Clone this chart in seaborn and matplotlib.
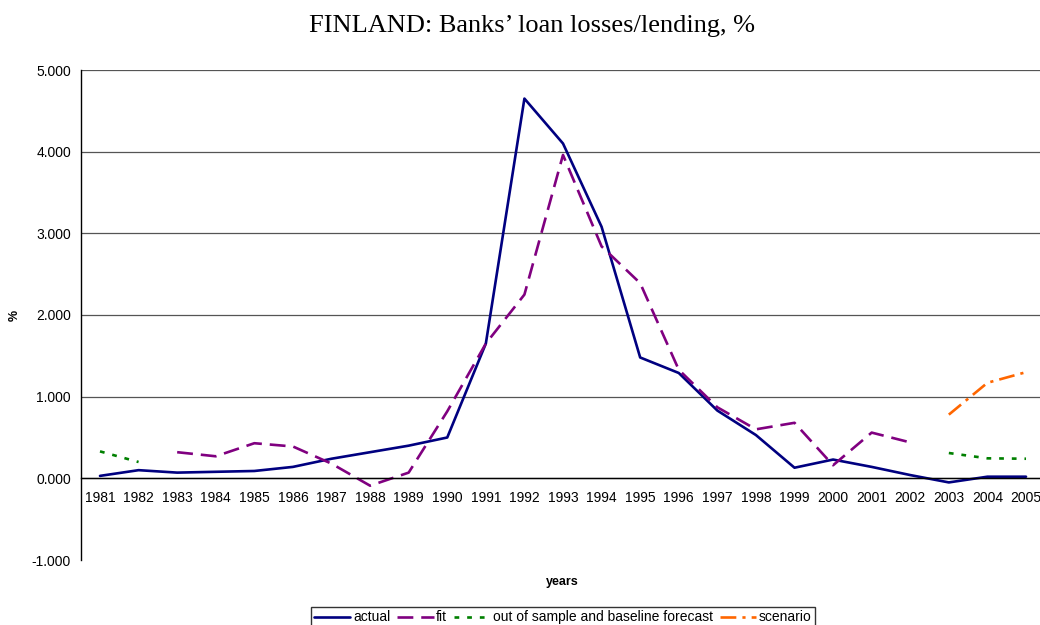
import numpy as np
import pandas as pd
import seaborn as sns
import matplotlib.pyplot as plt

# data
years = list(range(1981, 2006))
actual = [0.03, 0.10, 0.07, 0.08, 0.09, 0.14, 0.24, 0.32, 0.40, 0.50,
          1.65, 4.65, 4.10, 3.08, 1.48, 1.29, 0.83, 0.53, 0.13, 0.23,
          0.14, 0.04, -0.05, 0.02, 0.02]
fit = [np.nan, np.nan, 0.32, 0.27, 0.43, 0.39, 0.18, -0.09, 0.07, 0.82,
       1.65, 2.25, 3.96, 2.84, 2.39, 1.33, 0.87, 0.60, 0.68, 0.16,
       0.56, 0.44, np.nan, np.nan, np.nan]
baseline_years = [1981, 1982, 2003, 2004, 2005]
baseline = [0.33, 0.20, 0.31, 0.245, 0.24]
scenario_years = [2003, 2004, 2005]
scenario = [0.78, 1.17, 1.30]

sns.set_style('white')
plt.rcParams['font.family'] = ['Liberation Sans', 'DejaVu Sans']
plt.rcParams['text.color'] = 'black'
plt.rcParams['xtick.color'] = 'black'
plt.rcParams['ytick.color'] = 'black'

df = pd.DataFrame({'year': years, 'actual': actual, 'fit': fit})
base = pd.DataFrame({'year': baseline_years, 'value': baseline})
scen = pd.DataFrame({'year': scenario_years, 'value': scenario})

fig = plt.figure(figsize=(10.4, 6.25), dpi=100)
# plot area is wider than the picture on the right, like the original crop
ax = fig.add_axes([80.7 / 1040, 65 / 625, 964.6 / 1040, 490 / 625])

lw = 1.9
sns.lineplot(data=df, x='year', y='actual', color='#000080', lw=lw, label='actual', ax=ax)
sns.lineplot(data=df.dropna(), x='year', y='fit', color='#800080', lw=lw,
             label='fit', ax=ax)
ax.lines[-1].set_dashes([6, 3])
seg1 = base[base['year'] < 1990]
seg2 = base[base['year'] > 1990]
sns.lineplot(data=seg1, x='year', y='value', color='#008000', lw=lw,
             label='out of sample and baseline forecast', ax=ax)
ax.lines[-1].set_dashes([1.8, 3])
sns.lineplot(data=seg2, x='year', y='value', color='#008000', lw=lw,
             label='_nolegend_', ax=ax)
ax.lines[-1].set_dashes([1.8, 3])
sns.lineplot(data=scen, x='year', y='value', color='#FF6600', lw=lw,
             label='scenario', ax=ax)
ax.lines[-1].set_dashes([6, 2.3, 1.2, 2.3])

ax.set_xlim(1980.5, 2005.5)
ax.set_ylim(-1, 5)
ax.set_yticks(range(-1, 6))
ax.set_yticklabels([f'{v:.3f}' for v in range(-1, 6)], fontsize=10)
ax.yaxis.grid(True, color='#555555', lw=0.9)
ax.get_ygridlines()[0].set_visible(False)
ax.set_axisbelow(True)

ax.set_xticks(years)
ax.set_xticklabels([str(y) for y in years], fontsize=10)
ax.set_xticks([y - 0.5 for y in years[1:]], minor=True)
ax.tick_params(axis='x', which='major', length=0, pad=9)
ax.tick_params(axis='x', which='minor', length=5, width=1, direction='out', color='black')
ax.tick_params(axis='y', length=4, width=1, direction='out', color='black', pad=3)

ax.spines['top'].set_visible(False)
ax.spines['right'].set_visible(False)
ax.spines['bottom'].set_position(('data', 0))
for s in ['left', 'bottom']:
    ax.spines[s].set_color('black')
    ax.spines[s].set_linewidth(1)

ax.set_xlabel('')
ax.set_ylabel('')
fig.text(15 / 1040, 1 - 315 / 625, '%', rotation=90, fontsize=9, fontweight='bold',
         ha='center', va='center')
fig.text(562 / 1040, 1 - 582 / 625, 'years', fontsize=9, fontweight='bold',
         ha='center', va='center')
fig.text(532 / 1040, 1 - 26 / 625, 'FINLAND: Banks’ loan losses/lending, %',
         family=['Liberation Serif', 'DejaVu Serif'], fontsize=19, ha='center', va='center')

handles, labels = ax.get_legend_handles_labels()
ax.get_legend().remove()
leg = fig.legend(handles, labels, loc='upper center', bbox_to_anchor=(563 / 1040, 1 - 607 / 625),
                 ncol=4, fontsize=10, frameon=True, fancybox=False, edgecolor='black',
                 handlelength=2.6, handletextpad=0.2, columnspacing=0.5, borderpad=0.25,
                 borderaxespad=0)
leg.get_frame().set_linewidth(1)

fig.savefig('out.png', dpi=100)
